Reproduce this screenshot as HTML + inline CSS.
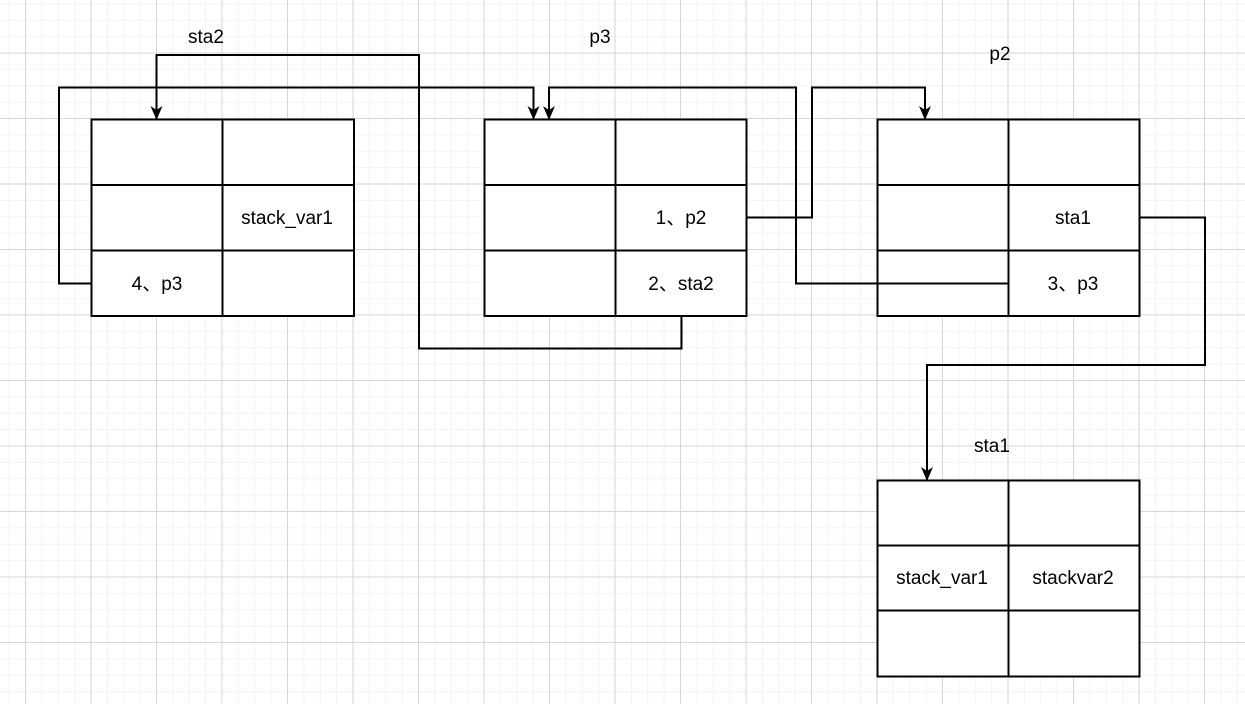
<!DOCTYPE html>
<html><head><meta charset="utf-8"><style>
html,body{margin:0;padding:0;background:#fff;}
svg{display:block;}
text{font-family:"Liberation Sans","Noto Sans CJK SC",sans-serif;font-size:19px;fill:#000;}
</style></head><body>
<svg width="1245" height="704" viewBox="0 0 1245 704" xmlns="http://www.w3.org/2000/svg">
<defs>
<pattern id="mi" patternUnits="userSpaceOnUse" x="25" y="52.5" width="16.375" height="16.375">
<path d="M0.5 0V16.375M0 0.5H16.375" stroke="#f3f3f3" stroke-width="1" fill="none"/>
</pattern>
<pattern id="ma" patternUnits="userSpaceOnUse" x="25" y="52.5" width="65.5" height="65.5">
<path d="M0.5 0V65.5M0 0.5H65.5" stroke="#d6d6d6" stroke-width="1" fill="none"/>
</pattern>
<marker id="ar" viewBox="0 0 14 12" refX="13" refY="6" markerWidth="14" markerHeight="12" markerUnits="userSpaceOnUse" orient="auto">
<path d="M0,0 L14,6 L0,12 L4,6 Z" fill="#000"/>
</marker>
</defs>
<rect width="1245" height="704" fill="#fff"/>
<rect width="1245" height="704" fill="url(#mi)"/>
<rect width="1245" height="704" fill="url(#ma)"/>

<g fill="#fff" stroke="#000" stroke-width="2">
<rect x="91.5" y="119.5" width="262.5" height="196.5"/>
<rect x="484.5" y="119.5" width="262" height="196.5"/>
<rect x="877.5" y="119.5" width="262" height="196.5"/>
<rect x="877.5" y="480.5" width="262" height="196"/>
</g>
<g stroke="#000" stroke-width="2" fill="none">
<path d="M222.5 119.5V316M91.5 185H354M91.5 250.5H354"/>
<path d="M615.5 119.5V316M484.5 185H746.5M484.5 250.5H746.5"/>
<path d="M1008.5 119.5V316M877.5 185H1139.5M877.5 250.5H1139.5"/>
<path d="M1008.5 480.5V676.5M877.5 545.5H1139.5M877.5 610.5H1139.5"/>
<path d="M681.5 316V348.5H419V55H156.5V119" marker-end="url(#ar)"/>
<path d="M91.5 283.5H59V87.5H533.5V119" marker-end="url(#ar)"/>
<path d="M1008.5 283.5H796V87.5H549V119" marker-end="url(#ar)"/>
<path d="M746.5 217.5H812V87.5H925V119" marker-end="url(#ar)"/>
<path d="M1139.5 217.5H1205V365H927V480" marker-end="url(#ar)"/>
</g>
<g text-anchor="middle">
<text x="206" y="43">sta2</text>
<text x="600" y="43">p3</text>
<text x="1000" y="60">p2</text>
<text x="992" y="452">sta1</text>
<text x="287" y="224">stack_var1</text>
<text x="157" y="290">4、p3</text>
<text x="681" y="224">1、p2</text>
<text x="681" y="290">2、sta2</text>
<text x="1073" y="224">sta1</text>
<text x="1073" y="290">3、p3</text>
<text x="942" y="584">stack_var1</text>
<text x="1073" y="584">stackvar2</text>
</g>
</svg>
</body></html>
